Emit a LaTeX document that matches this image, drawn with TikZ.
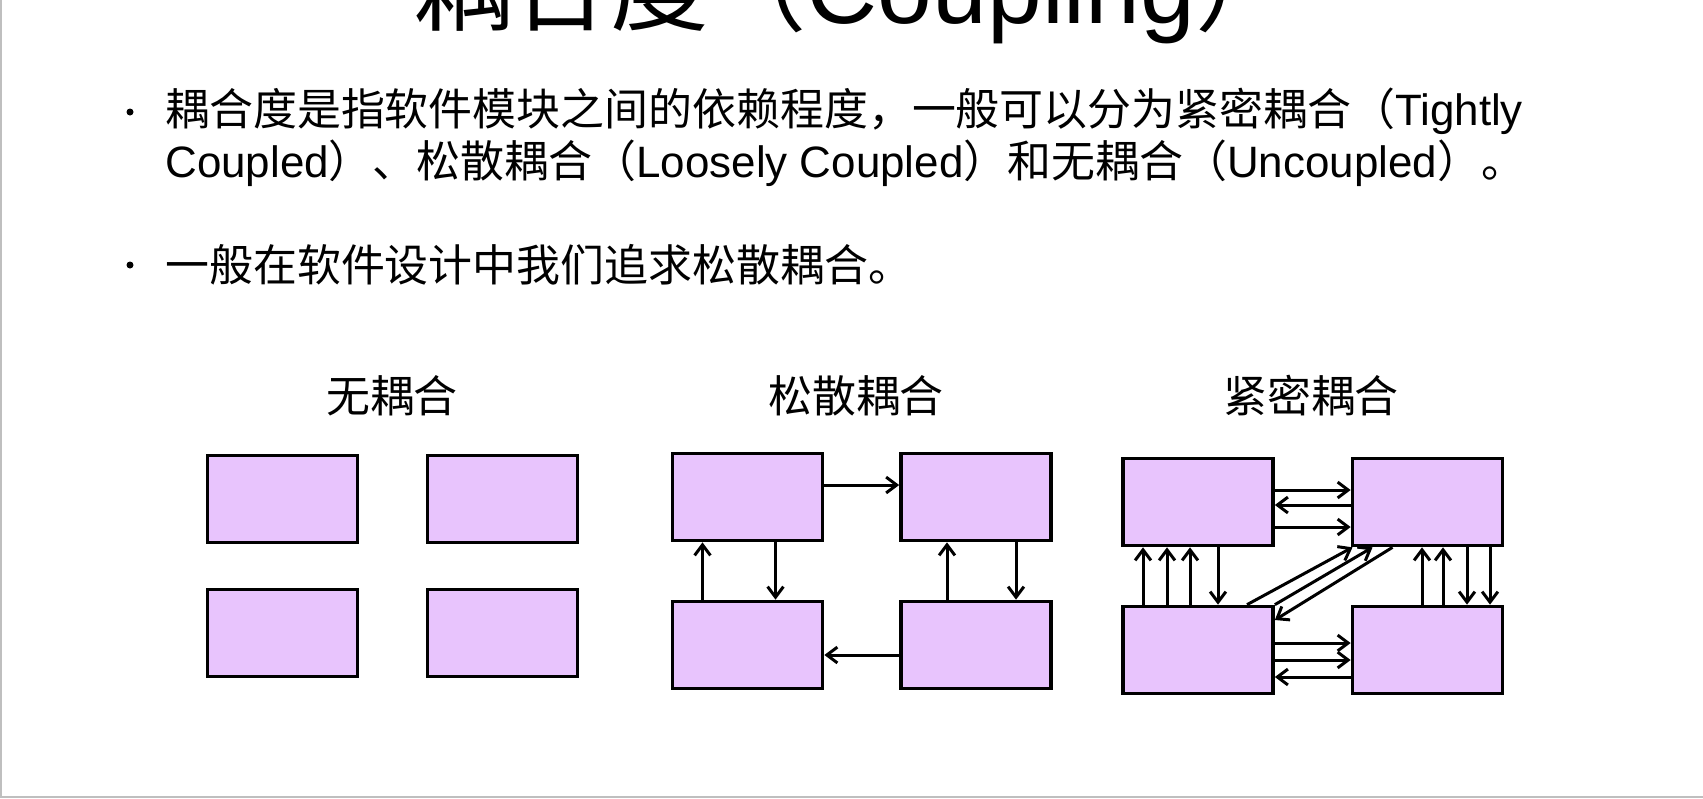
\documentclass[tikz,border=0pt]{standalone}
\usepackage{fontspec}
\setmainfont{Liberation Sans}
\newfontfamily\cjk{Noto Sans CJK SC}
\usetikzlibrary{arrows.meta}
\newlength\px
\setlength\px{0.02cm}
\definecolor{modfill}{RGB}{232,196,253}

\begin{document}
\begin{tikzpicture}[x=0.02cm, y=-0.02cm,
    module/.style={rectangle, draw=black, fill=modfill, line width=2.1pt, minimum width=150\px, minimum height=87\px, inner sep=0pt},
    dep/.style={-{Straight Barb[length=6pt,width=9pt]}, line width=1.7pt},
    bodytext/.style={font=\fontsize{25}{30}\selectfont, inner sep=0pt, anchor=base west},
    grouptitle/.style={font=\cjk\fontsize{25}{30}\selectfont, inner sep=0pt, anchor=base},
    dot/.style={circle, fill=black, inner sep=0pt, minimum size=7\px}
]
    \useasboundingbox (0,0) rectangle (1703,798);
    \clip (0,0) rectangle (1703,798);
    \draw[black!25, line width=2\px] (1,0) -- (1,797) -- (1703,797);

    % title, cut at the top
    \node[anchor=base west, inner sep=0pt, font=\fontsize{56}{60}\selectfont] (title) at (413,23) {{\cjk 耦合度（}Coupling{\cjk ）}};

    % bullets
    \node[dot] (dot1) at (130,112) {};
    \node[bodytext] (line1) at (165,125) {{\cjk 耦合度是指软件模块之间的依赖程度，一般可以分为紧密耦合（}Tightly};
    \node[bodytext] (line2) at (165,177) {Coupled{\cjk ）、松散耦合（}Loosely Coupled{\cjk ）和无耦合（}Uncoupled{\cjk ）。}};
    \node[dot] (dot2) at (130,265) {};
    \node[bodytext] (line3) at (165,281) {{\cjk 一般在软件设计中我们追求松散耦合。}};

    % uncoupled
    \node[grouptitle] (untitle) at (392,412) {无耦合};
    \node[module] (un1) at (282.5,499) {};
    \node[module] (un2) at (502.5,499) {};
    \node[module] (un3) at (282.5,633) {};
    \node[module] (un4) at (502.5,633) {};

    % loosely coupled
    \node[grouptitle] (lotitle) at (856,412) {松散耦合};
    \node[module] (lo1) at (747.5,497) {};
    \node[module] (lo2) at (976,497) {};
    \node[module] (lo3) at (747.5,645) {};
    \node[module] (lo4) at (976,645) {};
    \draw[dep] ([yshift=12\px]lo1.east) -- ([yshift=12\px]lo2.west);
    \draw[dep] ([yshift=-10\px]lo4.west) -- ([yshift=-10\px]lo3.east);
    \draw[dep] ([xshift=-45\px]lo3.north) -- ([xshift=-45\px]lo1.south);
    \draw[dep] ([xshift=28\px]lo1.south) -- ([xshift=28\px]lo3.north);
    \draw[dep] ([xshift=-29\px]lo4.north) -- ([xshift=-29\px]lo2.south);
    \draw[dep] ([xshift=40\px]lo2.south) -- ([xshift=40\px]lo4.north);

    % tightly coupled
    \node[grouptitle] (tititle) at (1311,412) {紧密耦合};
    \node[module] (ti1) at (1198,502) {};
    \node[module] (ti2) at (1427.5,502) {};
    \node[module] (ti3) at (1198,650) {};
    \node[module] (ti4) at (1427.5,650) {};
    \draw[dep] ([yshift=12\px]ti1.east) -- ([yshift=12\px]ti2.west);
    \draw[dep] ([yshift=-3\px]ti2.west) -- ([yshift=-3\px]ti1.east);
    \draw[dep] ([yshift=-25\px]ti1.east) -- ([yshift=-25\px]ti2.west);
    \draw[dep] ([yshift=7\px]ti3.east) -- ([yshift=7\px]ti4.west);
    \draw[dep] ([yshift=-10\px]ti3.east) -- ([yshift=-10\px]ti4.west);
    \draw[dep] ([yshift=-27\px]ti4.west) -- ([yshift=-27\px]ti3.east);
    \foreach \dx in {-55,-31,-8}
        \draw[dep] ([xshift=\dx\px]ti3.north) -- ([xshift=\dx\px]ti1.south);
    \draw[dep] ([xshift=20\px]ti1.south) -- ([xshift=20\px]ti3.north);
    \foreach \dx in {-5.5,15.5}
        \draw[dep] ([xshift=\dx\px]ti4.north) -- ([xshift=\dx\px]ti2.south);
    \foreach \dx in {39.5,62.5}
        \draw[dep] ([xshift=\dx\px]ti2.south) -- ([xshift=\dx\px]ti4.north);
    \draw[dep] ([xshift=49\px]ti3.north) -- ([xshift=-75\px]ti2.south);
    \draw[dep] (ti3.north east) -- ([xshift=-55\px]ti2.south);
    \draw[dep] ([xshift=-35\px]ti2.south) -- ([yshift=30\px]ti3.east);
\end{tikzpicture}
\end{document}
